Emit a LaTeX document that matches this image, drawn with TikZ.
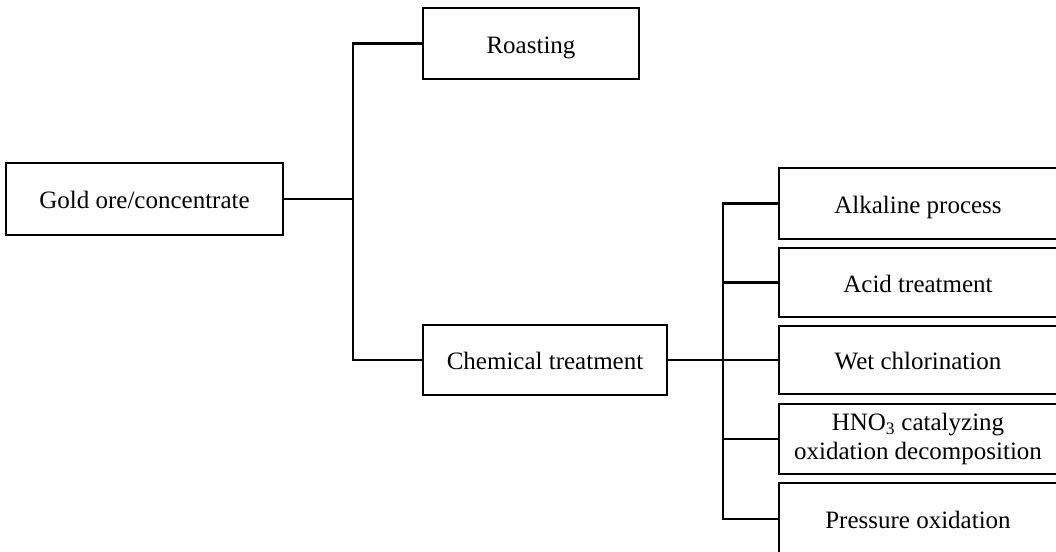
\documentclass[tikz,border=0pt]{standalone}
\usepackage{fontspec}
\setmainfont{Liberation Serif}
\begin{document}
\begin{tikzpicture}[x=1pt,y=-1pt,
  box/.style={draw=black, line width=1.5pt, fill=white, inner sep=0pt, align=center,
    font=\fontsize{25}{29}\selectfont, text height=19pt, text depth=0pt},
  link/.style={draw=black, line width=2.2pt}]
\useasboundingbox (0,0) rectangle (1056,551);
\clip (0,0) rectangle (1056,551);
\node[box, minimum width=277pt, minimum height=72pt] (gold) at (144.5,199) {Gold ore/concentrate};
\node[box, minimum width=216pt, minimum height=71pt] (roast) at (531,43.5) {Roasting};
\node[box, minimum width=244pt, minimum height=70pt] (chem) at (545,360) {Chemical treatment};
\node[box, minimum width=278pt, minimum height=71pt] (alk) at (918,203.5) {Alkaline process};
\node[box, minimum width=278pt, minimum height=69pt] (acid) at (918,282.5) {Acid treatment};
\node[box, minimum width=278pt, minimum height=68pt] (wet) at (918,360) {Wet chlorination};
\node[box, minimum width=278pt, minimum height=70pt, text height=, text depth=] (hno) at (918,439) {HNO\textsubscript{3} catalyzing\\oxidation decomposition};
\node[box, minimum width=278pt, minimum height=72pt] (pres) at (918,519) {Pressure oxidation};
\coordinate (j1) at (353,199);
\coordinate (j2) at (723,360);
\draw[link] (gold.east) -- (j1);
\draw[link] (roast.west) -| (j1) |- (chem.west);
\draw[link] (chem.east) -- (wet.west);
\draw[link] (alk.west) -| (j2) |- (pres.west);
\draw[link] (acid.west) -| (j2);
\draw[link] (hno.west) -| (j2);
\end{tikzpicture}
\end{document}
